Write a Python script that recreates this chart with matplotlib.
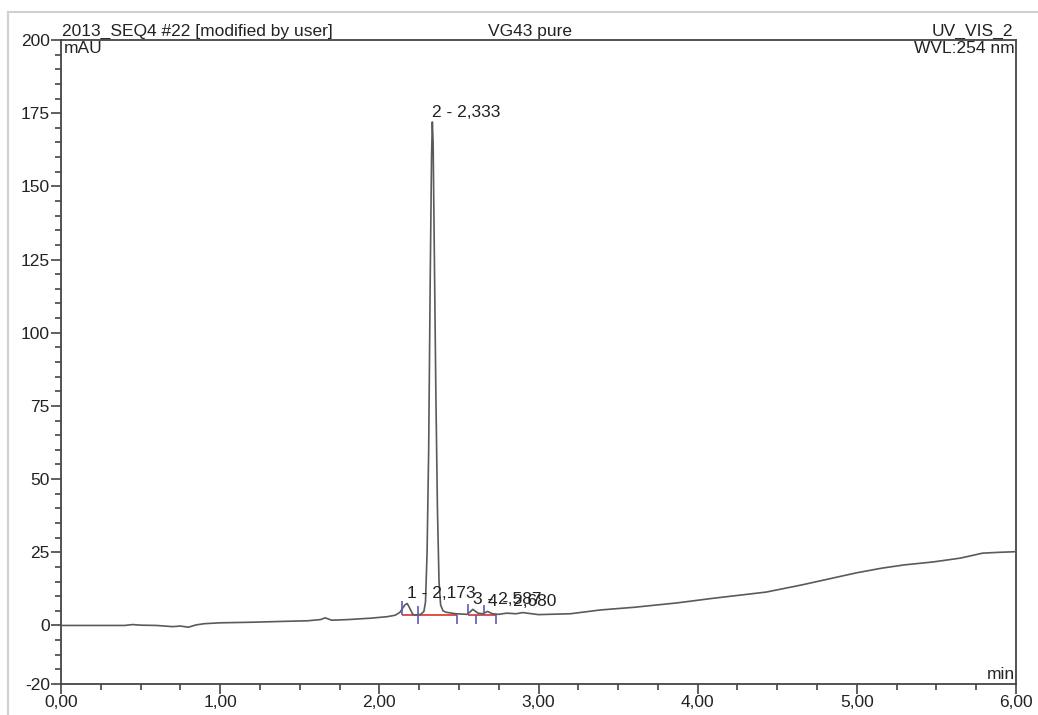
import matplotlib
matplotlib.use("Agg")
import matplotlib.pyplot as plt
from matplotlib.lines import Line2D
from matplotlib.ticker import FixedLocator, FuncFormatter

plt.rcParams['font.family'] = ['Liberation Sans', 'DejaVu Sans']

# chromatogram trace (min, mAU)
time = [0.00, 0.20, 0.40, 0.45, 0.50, 0.60, 0.70, 0.75, 0.80, 0.85, 0.90, 1.00,
        1.20, 1.40, 1.55, 1.63, 1.66, 1.70, 1.80, 1.95, 2.05, 2.10, 2.13, 2.16,
        2.175, 2.19, 2.21, 2.23, 2.26, 2.28, 2.29, 2.30, 2.31, 2.32, 2.328, 2.333,
        2.338, 2.345, 2.355, 2.365, 2.375, 2.385, 2.40, 2.42, 2.48, 2.55, 2.57,
        2.587, 2.62, 2.65, 2.68, 2.71, 2.75, 2.80, 2.86, 2.90, 3.00, 3.20, 3.39,
        3.60, 3.87, 4.10, 4.43, 4.65, 4.85, 5.00, 5.16, 5.30, 5.48, 5.65, 5.79,
        5.90, 6.00]
signal = [0.0, 0.0, 0.0, 0.3, 0.1, 0.0, -0.4, -0.2, -0.6, 0.2, 0.6, 0.9,
          1.1, 1.4, 1.6, 2.0, 2.6, 1.8, 2.0, 2.5, 3.0, 3.5, 4.5, 7.0,
          7.5, 6.0, 3.8, 3.5, 3.8, 4.8, 8.0, 25.0, 60.0, 120.0, 160.0, 172.0,
          165.0, 130.0, 80.0, 40.0, 15.0, 7.0, 5.0, 4.5, 4.0, 3.8, 4.6,
          5.5, 4.2, 4.0, 4.8, 4.0, 3.8, 4.2, 4.0, 4.4, 3.7, 4.0, 5.3,
          6.2, 7.7, 9.3, 11.4, 13.8, 16.2, 18.0, 19.6, 20.7, 21.7, 23.0, 24.7,
          25.0, 25.2]

# peak labels
peak_num = [1, 2, 3, 4]
peak_rt = [2.173, 2.333, 2.587, 2.680]
peak_top = [7.5, 172.0, 5.5, 4.8]

# integration baselines (start, end, level)
base_start = [2.14, 2.56]
base_end = [2.49, 2.73]
base_level = [3.6, 3.6]

# peak delimiters (time, low, high)
delim_t = [2.14, 2.24, 2.49, 2.56, 2.61, 2.66, 2.73]
delim_lo = [3.6, 0.5, 0.5, 3.6, 0.5, 3.6, 0.5]
delim_hi = [8.5, 6.5, 3.6, 7.5, 3.6, 7.0, 3.6]

FS = 12.5
TXT = '#222222'

fig = plt.figure(figsize=(10.38, 7.15), dpi=100)
ax = fig.add_axes([61 / 1038, 1 - 684 / 715, 955 / 1038, 644 / 715])

ax.plot(time, signal, color='#5a5a5a', lw=1.2, zorder=3)
ax.hlines(base_level, base_start, base_end, color='#e0403a', lw=1.3, zorder=2)
ax.vlines(delim_t, delim_lo, delim_hi, color='#5b5bb5', lw=1.2, zorder=4)

for n, rt, top in zip(peak_num, peak_rt, peak_top):
    ax.text(rt, top + 0.8, f"{n} - {rt:.3f}".replace('.', ','), fontsize=FS,
            ha='left', va='bottom', color=TXT, zorder=5)

ax.set_xlim(0, 6)
ax.set_ylim(-20, 200)

ax.xaxis.set_major_locator(FixedLocator([0, 1, 2, 3, 4, 5, 6]))
ax.xaxis.set_minor_locator(FixedLocator([i * 0.25 for i in range(25) if i % 4]))
ax.xaxis.set_major_formatter(FuncFormatter(lambda v, p: f"{v:.2f}".replace('.', ',')))
ax.yaxis.set_major_locator(FixedLocator([-20, 0, 25, 50, 75, 100, 125, 150, 175, 200]))
ax.yaxis.set_minor_locator(FixedLocator([v for v in range(-15, 200, 5) if v % 25]))
ax.yaxis.set_major_formatter(FuncFormatter(lambda v, p: f"{v:.0f}"))

ax.tick_params(axis='both', which='major', direction='out', length=7, width=1.2,
               color='#444444', labelsize=FS, labelcolor=TXT, pad=1)
ax.tick_params(axis='both', which='minor', direction='out', length=4, width=1.2,
               color='#444444')
for sp in ax.spines.values():
    sp.set_color('#444444')
    sp.set_linewidth(1.3)

ax.text(0.001, 1.002, "2013_SEQ4 #22 [modified by user]", transform=ax.transAxes,
        ha='left', va='bottom', fontsize=FS, color=TXT)
ax.text(0.491, 1.002, "VG43 pure", transform=ax.transAxes,
        ha='center', va='bottom', fontsize=FS, color=TXT)
ax.text(0.997, 1.002, "UV_VIS_2", transform=ax.transAxes,
        ha='right', va='bottom', fontsize=FS, color=TXT)
ax.text(0.003, 0.998, "mAU", transform=ax.transAxes,
        ha='left', va='top', fontsize=FS, color=TXT)
ax.text(0.999, 0.998, "WVL:254 nm", transform=ax.transAxes,
        ha='right', va='top', fontsize=FS, color=TXT)
ax.text(0.999, 0.003, "min", transform=ax.transAxes,
        ha='right', va='bottom', fontsize=FS, color=TXT)

# light outer frame of the original report
fig.add_artist(Line2D([8 / 1038, 1], [1 - 12 / 715, 1 - 12 / 715],
                      transform=fig.transFigure, color='#d0d0d0', lw=1.5))
fig.add_artist(Line2D([8 / 1038, 8 / 1038], [0, 1 - 12 / 715],
                      transform=fig.transFigure, color='#d0d0d0', lw=1.5))

fig.savefig("out.png", dpi=100)
